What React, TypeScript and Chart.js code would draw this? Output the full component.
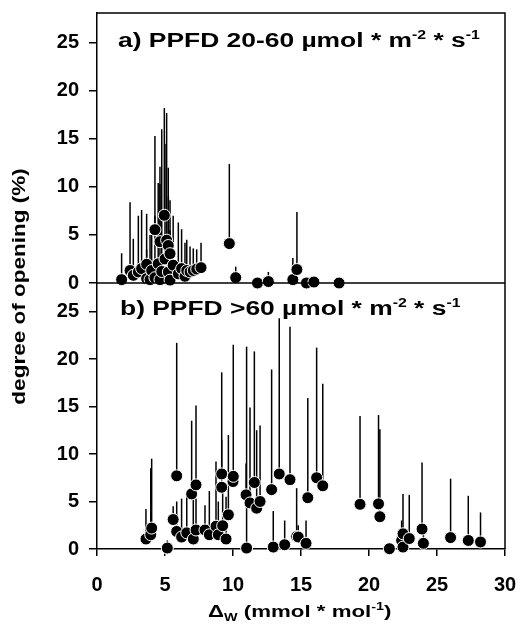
import React, { useEffect, useRef } from "react";
import { Chart, registerables } from "chart.js";

Chart.register(...registerables);

// ---- Panel a) PPFD 20-60 ----
const topX = [1.81, 2.43, 2.67, 3.04, 3.28, 3.65, 3.65, 3.9, 4.02, 4.26, 4.26, 4.5, 4.63, 4.63, 4.76, 4.95, 5.0, 5.12, 5.24, 5.25, 5.37, 5.37, 5.6, 5.98, 6.22, 6.47, 6.6, 6.84, 7.08, 7.33, 7.65, 9.73, 10.2, 11.8, 12.6, 14.4, 14.7, 15.4, 15.95, 17.8];
const topY = [0.35, 1.3, 0.8, 1.15, 1.5, 1.95, 0.45, 0.35, 1.3, 5.55, 0.55, 2.0, 4.3, 0.35, 1.2, 7.05, 2.5, 4.45, 3.9, 1.15, 3.05, 0.3, 1.85, 0.95, 1.5, 0.7, 1.3, 1.15, 1.3, 1.45, 1.6, 4.1, 0.56, 0.0, 0.15, 0.35, 1.4, 0.0, 0.1, 0.0];
const topHi = [3.1, 8.4, 4.6, 7.0, 7.6, 7.2, 3.5, 5.0, 6.0, 15.3, 7.0, 10.4, 12.1, 10.3, 16.0, 18.2, 14.5, 17.7, 12.0, 9.0, 8.6, 5.5, 7.0, 6.3, 5.6, 4.2, 4.5, 3.8, 3.6, 3.5, 4.2, 12.4, 1.7, 0.3, 1.15, 2.6, 7.4, 0.2, 0.2, 0.1];

// ---- Panel b) PPFD >60 ----
const botX = [3.6, 3.95, 4.02, 5.17, 5.6, 5.86, 5.86, 6.22, 6.6, 6.96, 7.08, 7.28, 7.28, 7.94, 8.26, 8.75, 8.92, 9.17, 9.17, 9.24, 9.49, 9.66, 10.0, 10.02, 10.96, 11.0, 11.25, 11.57, 11.74, 11.99, 12.84, 12.96, 13.4, 13.8, 14.19, 14.68, 14.8, 15.37, 15.5, 16.15, 16.6, 19.34, 20.7, 20.8, 21.5, 22.4, 22.5, 22.5, 22.96, 23.9, 24.0, 26.0, 27.3, 28.2];
const botY = [1.05, 1.5, 2.2, 0.1, 3.1, 7.7, 1.85, 1.26, 1.7, 5.8, 1.05, 6.75, 2.0, 2.0, 1.5, 2.4, 1.5, 7.9, 6.5, 2.45, 1.05, 3.6, 7.1, 7.65, 5.7, 0.1, 4.85, 7.0, 4.3, 5.0, 6.25, 0.2, 7.9, 0.45, 7.3, 1.3, 1.26, 0.6, 5.4, 7.5, 6.65, 4.7, 4.75, 3.4, 0.03, 0.9, 1.6, 0.2, 1.1, 2.1, 0.6, 1.2, 0.9, 0.74];
const botHi = [4.2, 8.5, 9.5, 0.9, 4.5, 21.7, 5.0, 5.3, 5.8, 13.5, 5.5, 15.1, 5.3, 4.6, 6.1, 9.2, 5.0, 18.6, 11.5, 6.0, 5.5, 12.0, 8.0, 21.5, 9.0, 21.3, 14.9, 20.8, 12.5, 13.0, 18.9, 4.0, 24.3, 3.0, 23.4, 6.4, 2.5, 3.0, 15.9, 21.2, 17.4, 14.0, 14.1, 12.6, 0.5, 3.0, 5.8, 1.0, 5.7, 9.1, 2.0, 7.4, 5.6, 3.85];

const yTicks = [0, 5, 10, 15, 20, 25];
const xTicks = [0, 5, 10, 15, 20, 25, 30];

const FAMILY = "'Liberation Sans', Arial, Helvetica, sans-serif";

type Part = { t: string; sup?: boolean; sub?: boolean };

function drawRich(ctx: CanvasRenderingContext2D, parts: Part[], x: number, y: number, size: number, sx: number) {
  ctx.save();
  ctx.translate(x, y);
  ctx.scale(sx, 1);
  ctx.fillStyle = "#000";
  ctx.textAlign = "left";
  ctx.textBaseline = "alphabetic";
  let cx = 0;
  for (const p of parts) {
    const s = p.sup || p.sub ? Math.round(size * 0.62) : size;
    ctx.font = `bold ${s}px ${FAMILY}`;
    const dy = p.sup ? -size * 0.4 : p.sub ? size * 0.25 : 0;
    ctx.fillText(p.t, cx, dy);
    cx += ctx.measureText(p.t).width;
  }
  ctx.restore();
}

const tickFont = { family: FAMILY, size: 20, weight: "bold" as const };

function yAxis(weight: number, max: number) {
  return {
    type: "linear" as const,
    position: "left" as const,
    stack: "panels",
    stackWeight: weight,
    min: 0,
    max,
    afterBuildTicks: (s: any) => {
      s.ticks = yTicks.map((v) => ({ value: v }));
    },
    afterFit: (s: any) => {
      s.width = 97;
      s.paddingTop = 0;
      s.paddingBottom = 0;
      s.paddingLeft = 0;
      s.paddingRight = 0;
    },
    ticks: { font: tickFont, color: "#000", padding: 10 },
    grid: { drawOnChartArea: false, drawTicks: true, tickLength: 8, color: "#000", lineWidth: 1.5 },
    border: { display: true, color: "#000", width: 1.5 },
  };
}

const framePlugin = {
  id: "frameAndText",
  afterDraw(chart: any) {
    const ctx: CanvasRenderingContext2D = chart.ctx;
    const a = chart.chartArea;
    const yTop = chart.scales.yTop;
    const yBot = chart.scales.yBot;
    ctx.save();
    ctx.strokeStyle = "#000";
    ctx.lineWidth = 1.5;
    ctx.beginPath();
    ctx.moveTo(a.left, a.top);
    ctx.lineTo(a.right, a.top);
    ctx.lineTo(a.right, a.bottom);
    ctx.stroke();
    const z = yTop.getPixelForValue(0);
    ctx.beginPath();
    ctx.moveTo(a.left, z);
    ctx.lineTo(a.right, z);
    ctx.stroke();
    ctx.restore();

    // panel labels
    drawRich(
      ctx,
      [{ t: "a) PPFD 20-60 µmol * m" }, { t: "-2", sup: true }, { t: " * s" }, { t: "-1", sup: true }],
      a.left + 21,
      a.top + 34,
      20,
      1.32
    );
    drawRich(
      ctx,
      [{ t: "b) PPFD >60 µmol * m" }, { t: "-2", sup: true }, { t: " * s" }, { t: "-1", sup: true }],
      a.left + 23,
      yBot.top + 32,
      20,
      1.32
    );

    // x title
    drawRich(
      ctx,
      [{ t: "Δ" }, { t: "W", sub: true }, { t: " (mmol * mol" }, { t: "-1", sup: true }, { t: ")" }],
      208,
      617,
      17,
      1.31
    );

    // y title
    ctx.save();
    ctx.translate(25, 286.5);
    ctx.rotate(-Math.PI / 2);
    ctx.scale(1.25, 1);
    ctx.fillStyle = "#000";
    ctx.font = `bold 18px ${FAMILY}`;
    ctx.textAlign = "center";
    ctx.textBaseline = "alphabetic";
    ctx.fillText("degree of opening (%)", 0, 0);
    ctx.restore();
  },
};

export default function App() {
  const ref = useRef<HTMLCanvasElement | null>(null);

  useEffect(() => {
    if (!ref.current) return;
    const barCommon = {
      type: "bar" as const,
      xAxisID: "x",
      backgroundColor: "#000",
      borderWidth: 0,
      barThickness: 1.5,
      inflateAmount: 0,
      grouped: false,
      order: 2,
    };
    const ptCommon = {
      type: "scatter" as const,
      xAxisID: "x",
      backgroundColor: "#000",
      borderColor: "#fff",
      borderWidth: 1,
      pointRadius: 6,
      pointHoverRadius: 6,
      clip: false as any,
      order: 1,
    };
    const chart = new Chart(ref.current, {
      type: "scatter",
      data: {
        datasets: [
          { ...barCommon, yAxisID: "yTop", data: topX.map((x, i) => ({ x, y: [topY[i], topHi[i]] })) } as any,
          { ...barCommon, yAxisID: "yBot", data: botX.map((x, i) => ({ x, y: [botY[i], botHi[i]] })) } as any,
          { ...ptCommon, yAxisID: "yTop", data: topX.map((x, i) => ({ x, y: topY[i] })) } as any,
          { ...ptCommon, yAxisID: "yBot", data: botX.map((x, i) => ({ x, y: botY[i] })) } as any,
        ],
      },
      options: {
        responsive: false,
        animation: false,
        devicePixelRatio: 1,
        layout: { padding: { top: 13, right: 15, left: 0, bottom: 0 } },
        plugins: { legend: { display: false }, tooltip: { enabled: false }, title: { display: false } },
        scales: {
          x: {
            type: "linear",
            position: "bottom",
            min: 0,
            max: 30,
            offset: false,
            afterBuildTicks: (s: any) => {
              s.ticks = xTicks.map((v) => ({ value: v }));
            },
            afterFit: (s: any) => {
              s.height = 77;
              s.paddingLeft = 0;
              s.paddingRight = 0;
              s.paddingTop = 0;
              s.paddingBottom = 0;
            },
            ticks: { font: tickFont, color: "#000", padding: 17 },
            grid: { drawOnChartArea: false, drawTicks: true, tickLength: 7, color: "#000", lineWidth: 1.5, offset: false },
            border: { display: true, color: "#000", width: 1.5 },
          },
          yBot: yAxis(266, 28.0),
          yTop: yAxis(270, 28.1),
        } as any,
      },
      plugins: [framePlugin],
    });
    return () => chart.destroy();
  }, []);

  return (
    <div style={{ position: "fixed", left: 0, top: 0, width: 520, height: 626, background: "#fff" }}>
      <canvas ref={ref} width={520} height={626} style={{ display: "block" }} />
    </div>
  );
}
